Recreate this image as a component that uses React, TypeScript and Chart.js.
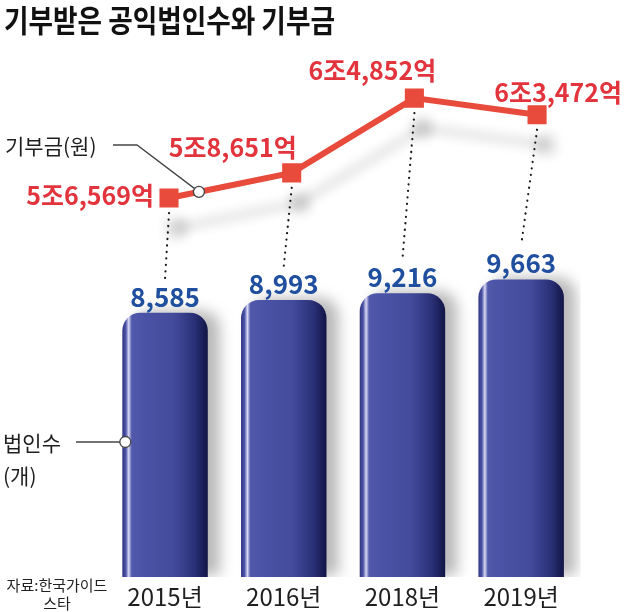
import React, { useEffect, useRef } from "react";
import { Chart, registerables } from "chart.js";

Chart.register(...registerables);

const categories = ["2015년", "2016년", "2018년", "2019년"];
const corpCounts = [8585, 8993, 9216, 9663]; // 법인수 (개)
const donationsEok = [56569, 58651, 64852, 63472]; // 기부금 (억원)

const FONT = '"Noto Sans CJK KR", "Noto Sans", sans-serif';
const LINE_RED = "#e84b3c";
const TEXT_RED = "#e2343d";
const TEXT_BLUE = "#1f4f9e";

const fmtCount = (v: number) => v.toLocaleString("en-US");
const fmtWon = (v: number) =>
  `${Math.floor(v / 10000)}조${(v % 10000).toLocaleString("en-US")}억`;

// label anchor offsets relative to each line point
const lineLabelOffsets: [number, number, CanvasTextAlign][] = [
  [-15, -2, "right"],
  [-59, -25, "center"],
  [-42, -28, "center"],
  [21, -22, "center"],
];

const decorPlugin = {
  id: "decor",
  beforeDatasetsDraw(chart: any) {
    const ctx = chart.ctx;
    const bars = chart.getDatasetMeta(0).data;
    const pts = chart.getDatasetMeta(1).data;
    ctx.save();
    ctx.strokeStyle = "#1a1a1a";
    ctx.lineWidth = 2.2;
    ctx.lineCap = "round";
    ctx.setLineDash([0.1, 6.4]);
    pts.forEach((p: any, i: number) => {
      const b = bars[i];
      ctx.beginPath();
      ctx.moveTo(p.x, p.y + 15);
      ctx.lineTo(b.x, b.y - 34);
      ctx.stroke();
    });
    ctx.restore();
  },
  beforeDatasetDraw(chart: any, args: any) {
    const ctx = chart.ctx;
    ctx.save();
    if (args.index === 0) {
      ctx.shadowColor = "rgba(0,0,0,0.28)";
      ctx.shadowBlur = 14;
      ctx.shadowOffsetX = 12;
      ctx.shadowOffsetY = -2;
    } else {
      ctx.shadowColor = "rgba(0,0,0,0.16)";
      ctx.shadowBlur = 12;
      ctx.shadowOffsetX = 8;
      ctx.shadowOffsetY = 30;
    }
  },
  afterDatasetDraw(chart: any) {
    chart.ctx.restore();
  },
  afterDatasetsDraw(chart: any) {
    const ctx = chart.ctx;
    const bars = chart.getDatasetMeta(0).data;
    const pts = chart.getDatasetMeta(1).data;
    const xs = chart.scales.x;
    ctx.save();
    // category labels under the bars
    ctx.font = `400 24px ${FONT}`;
    ctx.fillStyle = "#1f1f1f";
    ctx.textAlign = "center";
    ctx.textBaseline = "middle";
    chart.data.labels.forEach((lab: string, i: number) => {
      ctx.fillText(lab, xs.getPixelForValue(i), chart.chartArea.bottom + 20);
    });
    // bar value labels
    ctx.font = `700 26px ${FONT}`;
    ctx.fillStyle = TEXT_BLUE;
    bars.forEach((b: any, i: number) => {
      ctx.fillText(fmtCount(corpCounts[i]), b.x, b.y - 16);
    });
    // line value labels
    ctx.font = `700 25px ${FONT}`;
    ctx.fillStyle = TEXT_RED;
    pts.forEach((p: any, i: number) => {
      const [dx, dy, align] = lineLabelOffsets[i];
      ctx.textAlign = align;
      ctx.fillText(fmtWon(donationsEok[i]), p.x + dx, p.y + dy);
    });
    // leader for 기부금(원)
    const t = 0.244;
    const cx = pts[0].x + (pts[1].x - pts[0].x) * t;
    const cy = pts[0].y + (pts[1].y - pts[0].y) * t;
    ctx.strokeStyle = "#444";
    ctx.lineWidth = 1.3;
    ctx.beginPath();
    ctx.moveTo(113, 145);
    ctx.lineTo(137, 145);
    ctx.lineTo(cx, cy);
    ctx.stroke();
    ctx.beginPath();
    ctx.arc(cx, cy, 5.5, 0, Math.PI * 2);
    ctx.fillStyle = "#fff";
    ctx.fill();
    ctx.stroke();
    // leader for 법인수
    const b0 = bars[0];
    const lx = b0.x - b0.width / 2 + 3;
    ctx.beginPath();
    ctx.moveTo(76, 442);
    ctx.lineTo(lx, 442);
    ctx.stroke();
    ctx.beginPath();
    ctx.arc(lx, 442, 5.5, 0, Math.PI * 2);
    ctx.fillStyle = "#fff";
    ctx.fill();
    ctx.stroke();
    ctx.restore();
  },
};

export default function App() {
  const ref = useRef<HTMLCanvasElement>(null);

  useEffect(() => {
    const chart = new Chart(ref.current as HTMLCanvasElement, {
      type: "bar",
      data: {
        labels: categories,
        datasets: [
          {
            type: "bar",
            label: "법인수(개)",
            data: corpCounts,
            yAxisID: "y",
            xAxisID: "x",
            order: 2,
            grouped: false,
            categoryPercentage: 1,
            barPercentage: 0.72,
            borderRadius: 18,
            borderSkipped: "start",
            backgroundColor: (c: any) => {
              const ch = c.chart;
              const area = ch.chartArea;
              if (!area || c.dataIndex === undefined) return "#444c9e";
              const cxp = ch.scales.x.getPixelForValue(c.dataIndex);
              const half = ((area.width / categories.length) * 0.72) / 2;
              const g = ch.ctx.createLinearGradient(cxp - half, 0, cxp + half, 0);
              g.addColorStop(0, "#2f3580");
              g.addColorStop(0.04, "#4a52a6");
              g.addColorStop(0.075, "#d9d9f5");
              g.addColorStop(0.11, "#5159ab");
              g.addColorStop(0.25, "#4a53a5");
              g.addColorStop(0.6, "#434b9c");
              g.addColorStop(0.85, "#2a3076");
              g.addColorStop(1, "#111445");
              return g;
            },
          } as any,
          {
            type: "line",
            label: "기부금(원)",
            data: donationsEok.map((v, i) => ({ x: i, y: v })),
            yAxisID: "y2",
            xAxisID: "x2",
            order: 1,
            borderColor: LINE_RED,
            borderWidth: 6,
            pointStyle: "rect",
            pointRadius: 13.5,
            pointBackgroundColor: LINE_RED,
            pointBorderWidth: 0,
            tension: 0,
          } as any,
        ],
      },
      options: {
        responsive: false,
        animation: false,
        devicePixelRatio: 1,
        layout: { padding: { left: 105.7, right: 59.5, top: 60, bottom: 35 } },
        plugins: {
          legend: { display: false },
          title: { display: false },
          tooltip: { enabled: false },
        },
        scales: {
          x: {
            type: "category",
            offset: true,
            display: false,
          },
          x2: {
            type: "linear",
            display: false,
            offset: false,
            grace: 0,
            min: -0.516,
            max: 3.354,
          },
          y: { display: false, min: 0, max: 16790 },
          y2: { display: false, min: 25150, max: 68009 },
        },
      } as any,
      plugins: [decorPlugin],
    });
    return () => chart.destroy();
  }, []);

  const note: React.CSSProperties = {
    position: "absolute",
    whiteSpace: "nowrap",
    color: "#1f1f1f",
    fontFamily: FONT,
  };

  return (
    <div
      style={{
        position: "absolute",
        left: 0,
        top: 0,
        width: 640,
        height: 612,
        background: "#fff",
        overflow: "hidden",
        fontFamily: FONT,
      }}
    >
      <canvas
        ref={ref}
        width={640}
        height={612}
        style={{ position: "absolute", left: 0, top: 0 }}
      />
      <div
        style={{
          ...note,
          left: 4,
          top: 3,
          fontSize: 31,
          fontWeight: 700,
          lineHeight: "31px",
          color: "#111",
          transform: "scaleX(0.86)",
          transformOrigin: "left top",
        }}
      >
        기부받은 공익법인수와 기부금
      </div>
      <div style={{ ...note, left: 5, top: 133, fontSize: 21, lineHeight: "24px" }}>
        기부금(원)
      </div>
      <div style={{ ...note, left: 3, top: 430, fontSize: 21, lineHeight: "24px" }}>
        법인수
      </div>
      <div style={{ ...note, left: 3, top: 463, fontSize: 21, lineHeight: "24px" }}>
        (개)
      </div>
      <div
        style={{
          ...note,
          left: 0,
          top: 576,
          width: 114,
          textAlign: "center",
          fontSize: 15,
          lineHeight: "18px",
        }}
      >
        자료:한국가이드
        <br />
        스타
      </div>
    </div>
  );
}
